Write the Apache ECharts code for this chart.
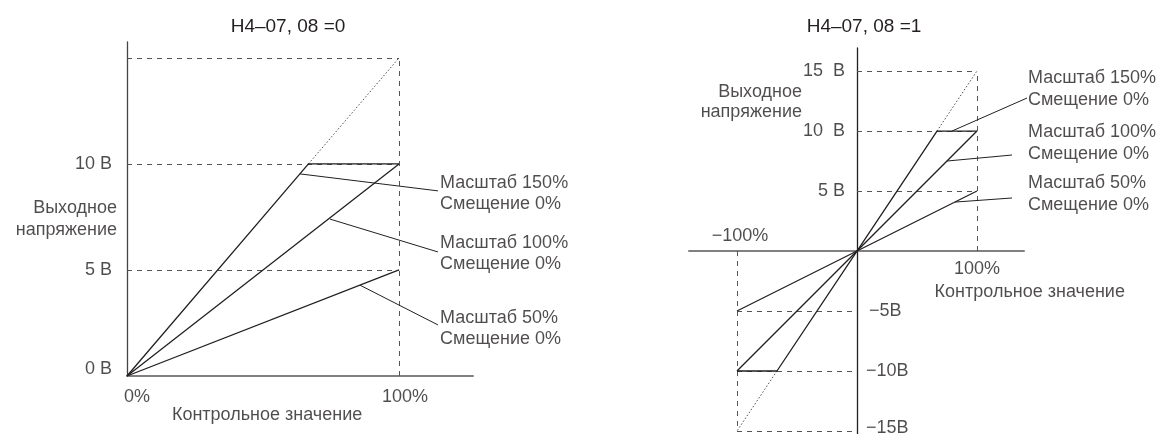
<!DOCTYPE html>
<html>
<head>
<meta charset="utf-8">
<script src="https://cdn.jsdelivr.net/npm/echarts@6/dist/echarts.min.js"></script>
<style>
  html, body { margin: 0; padding: 0; background: #fff; }
  #chart { width: 1168px; height: 434px; }
</style>
</head>
<body>
<div id="chart"></div>
<script>
// H4-07, 08 = 0 (unipolar output)
var line150L = [[0, 0], [66.7, 10], [100, 10]];
var line100L = [[0, 0], [100, 10]];
var line50L = [[0, 0], [100, 5]];
var dottedL = [[66.7, 10], [100, 15]];

// H4-07, 08 = 1 (bipolar output)
var line150R = [[-100, -10], [-66.7, -10], [0, 0], [66.7, 10], [100, 10]];
var line100R = [[-100, -10], [100, 10]];
var line50R = [[-100, -5], [100, 5]];
var dottedR = [[[66.7, 10], [100, 15]], [[-66.7, -10], [-100, -15]]];

var titles = ['H4\u201307, 08 =0', 'H4\u201307, 08 =1'];
var yTicksL = ['0 B', '5 B', '10 B'];
var yTickValsL = [0, 5, 10];
var yTicksRpos = ['5 B', '10  B', '15  B'];
var yTickValsRpos = [5, 10, 15];
var yTicksRneg = ['\u22125B', '\u221210B', '\u221215B'];
var yTickValsRneg = [-5, -10, -15];
var yName = 'Выходное\nнапряжение';
var xName = 'Контрольное значение';
var legendText = ['Масштаб 150%\nСмещение 0%', 'Масштаб 100%\nСмещение 0%', 'Масштаб 50%\nСмещение 0%'];

// guide (dashed) segments
var guidesL = [
  [[0, 15], [100, 15]], [[0, 10], [100, 10]], [[0, 5], [100, 5]], [[100, 0], [100, 15]]
];
var guidesR = [
  [[0, 15], [100, 15]], [[0, 10], [100, 10]], [[0, 5], [100, 5]], [[100, 0], [100, 15]],
  [[-100, -5], [0, -5]], [[-100, -10], [0, -10]], [[-100, -15], [0, -15]], [[-100, 0], [-100, -15]]
];

// leader lines: from curve to label
var leadersL = [
  [[63.6, 9.53], [114.3, 8.73]],
  [[74.6, 7.4], [114.3, 5.85]],
  [[85.7, 4.28], [114.3, 2.41]]
];
var leadersR = [
  [[79.2, 10], [141.7, 12.75]],
  [[75, 7.5], [129.2, 8]],
  [[81.7, 4.08], [129.2, 4.42]]
];
var legendPosL = [[115.1, 8.6], [115.1, 5.78], [115.1, 2.22]];
var legendPosR = [[142.5, 13.5], [142.5, 8.96], [142.5, 4.71]];

var INK = '#231f20';
var GREY = '#808080';
var FONT = 'Liberation Sans';
var FS = 18;

var myChart = echarts.init(document.getElementById('chart'));

function solid(name, data, xi) {
  return {
    name: name, type: 'line', xAxisIndex: xi, yAxisIndex: xi, data: data,
    symbol: 'none', silent: true, clip: false,
    lineStyle: {color: INK, width: 1.3}
  };
}

function segs(data, xi, style) {
  return {
    type: 'lines', coordinateSystem: 'cartesian2d', xAxisIndex: xi, yAxisIndex: xi,
    silent: true, clip: false,
    data: data.map(function (c) { return {coords: c}; }),
    lineStyle: Object.assign({opacity: 1, curveness: 0}, style)
  };
}

function texts(items, xi, pos, extra) {
  return {
    type: 'scatter', xAxisIndex: xi, yAxisIndex: xi, symbolSize: 0, silent: true, clip: false,
    data: items.map(function (it) {
      return {value: it.v, label: Object.assign({show: true, formatter: it.t, position: pos}, it.l || {})};
    }),
    label: Object.assign({color: INK, fontFamily: FONT, fontSize: FS}, extra || {})
  };
}

var dashStyle = {color: '#555', width: 1, type: [5, 5]};
var dotStyle = {color: INK, width: 0.8, type: [1.5, 2]};
var leaderStyle = {color: INK, width: 1};

var option = {
  animation: false,
  title: [
    {text: titles[0], left: 283, top: 12, textAlign: 'center',
      textStyle: {fontWeight: 'normal', fontSize: 19, color: INK, fontFamily: FONT}},
    {text: titles[1], left: 859, top: 12, textAlign: 'center',
      textStyle: {fontWeight: 'normal', fontSize: 19, color: INK, fontFamily: FONT}}
  ],
  grid: [
    {left: 127, top: 42, width: 346, height: 334},
    {left: 689, top: 48, width: 335, height: 386}
  ],
  xAxis: [
    {gridIndex: 0, type: 'value', min: 0, max: 127.2,
      axisLine: {lineStyle: {color: GREY, width: 2}}, axisTick: {show: false},
      axisLabel: {show: false}, splitLine: {show: false}},
    {gridIndex: 1, type: 'value', min: -140, max: 139.2,
      axisLine: {onZero: true, lineStyle: {color: GREY, width: 2}}, axisTick: {show: false},
      axisLabel: {show: false}, splitLine: {show: false}}
  ],
  yAxis: [
    {gridIndex: 0, type: 'value', min: 0, max: 15.75,
      axisLine: {show: true, lineStyle: {color: '#444', width: 1.3}}, axisTick: {show: false},
      axisLabel: {show: false}, splitLine: {show: false}},
    {gridIndex: 1, type: 'value', min: -15.25, max: 16.92,
      axisLine: {show: true, onZero: true, lineStyle: {color: INK, width: 1.3}}, axisTick: {show: false},
      axisLabel: {show: false}, splitLine: {show: false}}
  ],
  series: [
    segs(guidesL, 0, dashStyle),
    segs([dottedL], 0, dotStyle),
    solid('150L', line150L, 0),
    solid('100L', line100L, 0),
    solid('50L', line50L, 0),
    segs(leadersL, 0, leaderStyle),
    texts(legendPosL.map(function (p, i) { return {v: p, t: legendText[i]}; }), 0, 'right',
      {distance: 0, lineHeight: 21, align: 'left'}),
    texts(yTickValsL.map(function (v, i) {
      return {v: [0, v], t: yTicksL[i], l: {offset: [0, v === 0 ? -7 : 0]}};
    }), 0, 'left', {distance: 15}),
    texts([{v: [0, 7.4], t: yName}], 0, 'left', {distance: 10, align: 'right', lineHeight: 22}),
    texts([{v: [0, 0], t: '0%', l: {offset: [10, 0]}}, {v: [100, 0], t: '100%', l: {offset: [6, 0]}}], 0, 'bottom',
      {distance: 12}),
    texts([{v: [51.5, 0], t: xName}], 0, 'bottom', {distance: 30}),

    segs(guidesR, 1, dashStyle),
    segs(dottedR, 1, dotStyle),
    solid('150R', line150R, 1),
    solid('100R', line100R, 1),
    solid('50R', line50R, 1),
    segs(leadersR, 1, leaderStyle),
    texts(legendPosR.map(function (p, i) { return {v: p, t: legendText[i]}; }), 1, 'right',
      {distance: 0, lineHeight: 22, align: 'left'}),
    texts(yTickValsRpos.map(function (v, i) { return {v: [0, v], t: yTicksRpos[i]}; }), 1, 'left', {distance: 12}),
    texts(yTickValsRneg.map(function (v, i) {
      return {v: [0, v], t: yTicksRneg[i], l: {offset: [v === -5 ? 3 : 0, v === -15 ? -3 : 0]}};
    }), 1, 'right', {distance: 9}),
    texts([{v: [0, 12.4], t: yName}], 1, 'left', {distance: 55, align: 'right', lineHeight: 20}),
    texts([{v: [-100, 0], t: '\u2212100%', l: {offset: [3, 0]}}], 1, 'top', {distance: 6}),
    texts([{v: [100, 0], t: '100%'}], 1, 'bottom', {distance: 9}),
    texts([{v: [144, 0], t: xName}], 1, 'bottom', {distance: 32})
  ]
};

myChart.setOption(option);
</script>
</body>
</html>
